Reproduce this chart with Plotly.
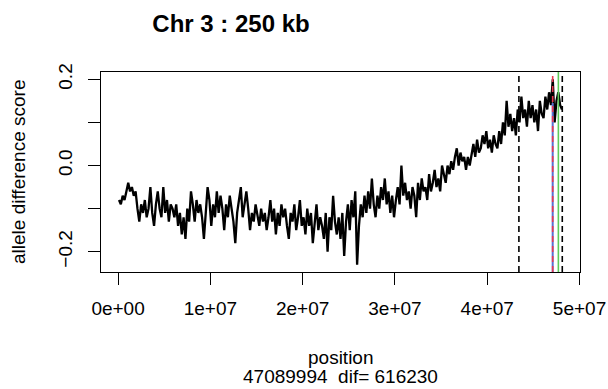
import numpy as np
import plotly.graph_objects as go

# ---- data ----
window_start = 1e5
window_step = 2e5
score = [
    -0.08, -0.09, -0.07, -0.08, -0.06, -0.04, -0.06, -0.05, -0.07, -0.06,
    -0.10, -0.13, -0.09, -0.11, -0.08, -0.12, -0.10, -0.05, -0.11, -0.14,
    -0.09, -0.06, -0.10, -0.12, -0.05, -0.11, -0.08, -0.13, -0.09, -0.10,
    -0.12, -0.09, -0.14, -0.11, -0.16, -0.12, -0.17, -0.10, -0.13, -0.06,
    -0.09, -0.13, -0.08, -0.11, -0.09, -0.12, -0.17, -0.10, -0.05, -0.08,
    -0.14, -0.09, -0.12, -0.06, -0.11, -0.07, -0.10, -0.15, -0.09, -0.12,
    -0.07, -0.10, -0.13, -0.18, -0.11, -0.08, -0.05, -0.12, -0.09, -0.06,
    -0.10, -0.15, -0.11, -0.13, -0.09, -0.12, -0.14, -0.10, -0.13, -0.11,
    -0.15, -0.12, -0.08, -0.13, -0.10, -0.16, -0.11, -0.14, -0.09, -0.12,
    -0.10, -0.14, -0.17, -0.11, -0.13, -0.09, -0.15, -0.12, -0.08, -0.14,
    -0.12, -0.16, -0.10, -0.14, -0.11, -0.18, -0.13, -0.09, -0.15, -0.12,
    -0.14, -0.17, -0.11, -0.20, -0.12, -0.15, -0.07, -0.13, -0.16, -0.12,
    -0.17, -0.11, -0.21, -0.13, -0.09, -0.15, -0.08, -0.12, -0.06, -0.23,
    -0.14, -0.09, -0.12, -0.07, -0.11, -0.06, -0.10, -0.03, -0.09, -0.12,
    -0.07, -0.10, -0.05, -0.08, -0.03, -0.09, -0.06, -0.11, -0.07, -0.12,
    -0.08, -0.05, -0.09, 0.00, -0.07, -0.04, -0.08, -0.06, -0.10, -0.05,
    -0.07, -0.12, -0.04, -0.08, -0.03, -0.06, -0.05, -0.08, -0.02, -0.06,
    -0.04, -0.01, -0.05, -0.03, -0.06, 0.00, -0.02, -0.04, 0.00, -0.02,
    0.01, -0.01, 0.02, 0.04, 0.00, 0.03, 0.01, 0.02, -0.01, 0.02,
    0.00, 0.03, 0.05, 0.02, 0.06, 0.03, 0.04, 0.07, 0.05, 0.08,
    0.04, 0.06, 0.03, 0.07, 0.05, 0.04, 0.08, 0.05, 0.10, 0.07,
    0.15, 0.09, 0.12, 0.08, 0.11, 0.07, 0.13, 0.10, 0.16, 0.11,
    0.13, 0.09, 0.15, 0.11, 0.14, 0.10, 0.13, 0.08, 0.15, 0.12,
    0.11, 0.16, 0.13, 0.17, 0.14, 0.20, 0.10, 0.15, 0.17, 0.14,
    0.13,
]
position = [window_start + window_step * i for i in range(len(score))]

peak_pos = 47089994
dif = 616230
interval_bounds = [43430000, 48130000]
peak_score = 0.145

x_ticks = [0, 1e7, 2e7, 3e7, 4e7, 5e7]
x_ticklabels = ["0e+00", "1e+07", "2e+07", "3e+07", "4e+07", "5e+07"]
y_ticks = [-0.2, -0.1, 0.0, 0.1, 0.2]
y_ticklabels = ["\u22120.2", "", "0.0", "", "0.2"]

x_range = [-1.85e6, 5.005e7]
y_range = [-0.247, 0.217]

FONT = "Liberation Sans, Arial, Helvetica, sans-serif"

fig = go.Figure()
fig.add_trace(go.Scatter(x=position, y=score, mode="lines",
                         line=dict(color="black", width=2.3), hoverinfo="skip"))
for b in interval_bounds:
    fig.add_trace(go.Scatter(x=[b, b], y=y_range, mode="lines",
                             line=dict(color="black", width=1.6, dash="6px,4px")))
fig.add_trace(go.Scatter(x=[peak_pos, peak_pos], y=[y_range[0], peak_score], mode="lines",
                         line=dict(color="#5b6fd1", width=2)))
fig.add_trace(go.Scatter(x=[peak_pos, peak_pos], y=y_range, mode="lines",
                         line=dict(color="#e8384f", width=1.6, dash="6px,4px")))
fig.add_trace(go.Scatter(x=[peak_pos + dif, peak_pos + dif], y=y_range, mode="lines",
                         line=dict(color="#5fc95a", width=1.6)))

fig.update_layout(
    width=608, height=389,
    margin=dict(l=101, r=28, t=72, b=117, autoexpand=False),
    paper_bgcolor="white", plot_bgcolor="white",
    showlegend=False,
    font=dict(family=FONT, size=19, color="black"),
    title=dict(text="<b>Chr 3 : 250 kb</b>", x=231 / 608, y=1 - 24 / 389,
               xanchor="center", yanchor="middle",
               font=dict(family=FONT, size=24, color="black")),
)
fig.update_xaxes(range=x_range, tickvals=x_ticks, ticktext=x_ticklabels,
                 automargin=False,
                 showgrid=False, zeroline=False, showline=True, mirror=True,
                 linecolor="black", linewidth=1.3, ticks="outside", ticklen=12,
                 tickwidth=1.3, tickcolor="black", ticklabelstandoff=7,
                 tickfont=dict(size=19))
fig.update_yaxes(range=y_range, tickvals=y_ticks, ticktext=y_ticklabels,
                 automargin=False,
                 showgrid=False, zeroline=False, showline=True, mirror=True,
                 linecolor="black", linewidth=1.3, ticks="outside", ticklen=12,
                 tickwidth=1.3, tickcolor="black", tickangle=-90,
                 ticklabelstandoff=8, tickfont=dict(size=19))

fig.add_annotation(text="allele difference score", xref="paper", yref="paper",
                   x=(18 - 101) / 479, y=0.5, textangle=-90, showarrow=False,
                   xanchor="center", yanchor="middle", font=dict(size=19))
fig.add_annotation(text="position", xref="paper", yref="paper",
                   x=0.5, y=(272 - 357) / 200, showarrow=False,
                   xanchor="center", yanchor="middle", font=dict(size=19))
fig.add_annotation(text=f"{peak_pos}  dif= {dif}", xref="paper", yref="paper",
                   x=0.5, y=(272 - 376) / 200, showarrow=False,
                   xanchor="center", yanchor="middle", font=dict(size=19))

fig.write_html("out.html")
